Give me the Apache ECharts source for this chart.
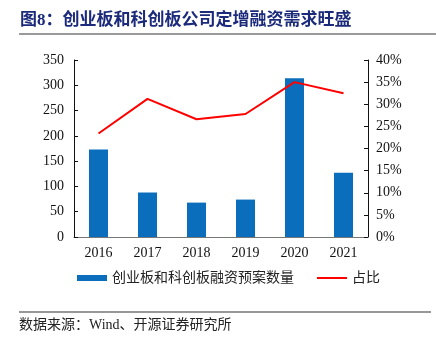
<!DOCTYPE html>
<html><head><meta charset="utf-8">
<script src="https://cdn.jsdelivr.net/npm/echarts@6/dist/echarts.min.js"></script>
<style>html,body{margin:0;padding:0;background:#fff}#c{width:436px;height:350px}</style>
</head><body><div id="c"></div>
<script>
const categories = ['2016','2017','2018','2019','2020','2021'];
const planCounts = [173, 88, 68, 74, 314, 127];
const shares = [23.4, 31.2, 26.6, 27.8, 35.0, 32.5];
const titleText = '图8：创业板和科创板公司定增融资需求旺盛';
const sourceText = '数据来源：Wind、开源证券研究所';
const barName = '创业板和科创板融资预案数量';
const lineName = '占比';

const serif = '"Liberation Serif","Times New Roman",serif';
const cjk = '"Liberation Serif","Noto Sans CJK SC",serif';
const chart = echarts.init(document.getElementById('c'), null, {renderer:'canvas'});
chart.setOption({
  animation:false,
  backgroundColor:'#fff',
  grid:{left:74, right:68, top:60, bottom:113},
  graphic:[
    {type:'text', left:20, top:12, style:{text:titleText, font:'bold 17px '+cjk, fill:'#1b2a7a'}},
    {type:'rect', shape:{x:19, y:33, width:417, height:2}, style:{fill:'#9a9a9a'}},
    {type:'rect', shape:{x:19, y:311.5, width:412, height:1}, style:{fill:'#333'}},
    {type:'text', left:19, top:318, style:{text:sourceText, font:'14px '+cjk, fill:'#222'}}
  ],
  legend:{
    bottom:60, left:72, itemGap:23,
    textStyle:{fontFamily:cjk, fontSize:14, color:'#222'},
    data:[
      {name:barName, icon:'rect', itemStyle:{color:'#0a6ebd'}},
      {name:lineName, icon:'path://M0,0H30V2H0Z'}
    ],
    itemWidth:30, itemHeight:6
  },
  xAxis:{
    type:'category', data:categories,
    axisLine:{lineStyle:{color:'#777', width:1}},
    axisTick:{inside:true, length:4, lineStyle:{color:'#333'}},
    axisLabel:{fontFamily:serif, fontSize:14, color:'#111', margin:9}
  },
  yAxis:[
    {type:'value', min:0, max:350, interval:50,
     axisLine:{show:true, lineStyle:{color:'#111'}},
     axisTick:{show:true, inside:true, length:4, lineStyle:{color:'#111'}},
     splitLine:{show:false},
     axisLabel:{fontFamily:serif, fontSize:14, color:'#111', margin:10}},
    {type:'value', min:0, max:40, interval:5,
     axisLine:{show:true, lineStyle:{color:'#111'}},
     axisTick:{show:true, inside:true, length:4, lineStyle:{color:'#111'}},
     splitLine:{show:false},
     axisLabel:{fontFamily:serif, fontSize:14, color:'#111', margin:8, formatter:'{value}%'}}
  ],
  series:[
    {name:barName, type:'bar', data:planCounts, barWidth:19, itemStyle:{color:'#0a6ebd'}, yAxisIndex:0},
    {name:lineName, type:'line', data:shares, yAxisIndex:1, symbol:'none',
     lineStyle:{color:'#ff0000', width:2}, itemStyle:{color:'#ff0000'}}
  ]
});
</script></body></html>
